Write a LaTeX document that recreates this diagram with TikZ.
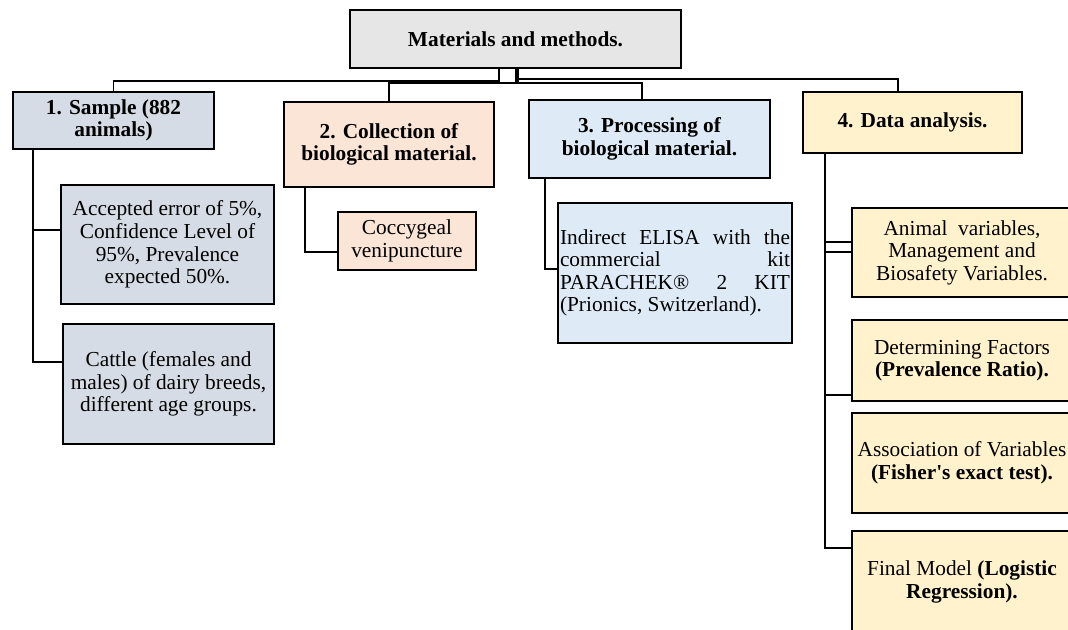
\documentclass[tikz,border=0pt]{standalone}
\usepackage{fontspec}
\setmainfont{Liberation Serif}
\usetikzlibrary{calc}
\definecolor{titlefill}{HTML}{E7E6E6}
\definecolor{grpA}{HTML}{D6DCE5}
\definecolor{grpB}{HTML}{FBE5D6}
\definecolor{grpC}{HTML}{DEEBF7}
\definecolor{grpD}{HTML}{FFF2CC}
\begin{document}
\begin{tikzpicture}[x=0.75pt,y=-0.75pt,
  box/.style={draw=black, line width=1.2pt, inner sep=0pt, align=center, font=\fontsize{16}{16.9}\selectfont},
  hbox/.style={box, font=\bfseries\fontsize{16}{16.9}\selectfont},
  conn/.style={line width=1pt},
  conn2/.style={line width=1.5pt}]
\useasboundingbox (0,0) rectangle (1068,630);
\clip (0,0) rectangle (1068,630);
% main boxes
\node[hbox, fill=titlefill, minimum width=248.25pt, minimum height=43.5pt] (title) at (515.5,39) {Materials and methods.};
\node[hbox, fill=grpA, minimum width=150.75pt, minimum height=42.75pt] (b1) at (113.5,120.5) {1. Sample (882\\animals)};
\node[hbox, fill=grpB, minimum width=157.5pt, minimum height=63.75pt] (b2) at (389,144.5) {2. Collection of\\biological material.};
\node[hbox, fill=grpC, minimum width=180.75pt, minimum height=58.5pt] (b3) at (649.5,139) {3. Processing of\\biological material.};
\node[hbox, fill=grpD, minimum width=164.25pt, minimum height=45.75pt] (b4) at (912.5,122.5) {4. Data analysis.};
% sub boxes
\node[box, fill=grpA, minimum width=159.75pt, minimum height=89.25pt] (s1a) at (167.5,244.5) {Accepted error of 5\%,\\Confidence Level of\\95\%, Prevalence\\expected 50\%.};
\node[box, fill=grpA, minimum width=158.25pt, minimum height=90pt] (s1b) at (168.5,384) {Cattle (females and\\males) of dairy breeds,\\different age groups.};
\node[box, fill=grpB, minimum width=103.5pt, minimum height=43.5pt] (s2) at (407,241) {Coccygeal\\venipuncture};
\node[box, fill=grpC, minimum width=175.5pt, minimum height=105pt, align=left] (s3) at (675,273)
  {\makebox[172.5pt][s]{Indirect ELISA with the}\\\makebox[172.5pt][s]{commercial kit}\\\makebox[172.5pt][s]{PARACHEK® 2 KIT}\\(Prionics, Switzerland).};
\node[box, fill=grpD, minimum width=165pt, minimum height=66.75pt] (s4a) at (962,252.5) {Animal\ \ variables,\\Management and\\Biosafety Variables.};
\node[box, fill=grpD, minimum width=165pt, minimum height=60.75pt] (s4b) at (962,360.5) {Determining Factors\\\textbf{(Prevalence Ratio).}};
\node[box, fill=grpD, minimum width=165pt, minimum height=75pt] (s4c) at (962,463) {Association of Variables\\\textbf{(Fisher\textquotesingle s exact test).}};
\node[box, fill=grpD, minimum width=165pt, minimum height=76.5pt] (s4d) at (962,582) {Final Model \textbf{(Logistic}\\\textbf{Regression).}};
% top connectors
\coordinate (h1) at (499,81);
\coordinate (h2) at (517,83);
\coordinate (h3) at (517,79);
\draw[conn] (title.south -| h1) -- (h1) -| (b1.north);
\draw[conn2] (h2) -| (b2.north);
\draw[conn2] (h2) -| ($(b3.north)+(-7.5,0)$);
\draw[conn] (h3) -| ($(b4.north)+(-14.5,0)$);
\draw[line width=2.5pt] (title.south -| h2) -- (h2);
% sub connectors
\coordinate (v1) at (33,0);
\coordinate (v2) at (305,0);
\coordinate (v3) at (545,0);
\coordinate (v4) at (825,0);
\draw[conn] (b1.south -| v1) |- ($(s1a.west)+(0,-14.5)$);
\draw[conn] (b1.south -| v1) |- ($(s1b.west)+(0,-22)$);
\draw[conn] (b2.south -| v2) |- ($(s2.west)+(0,11)$);
\draw[conn] (b3.south -| v3) |- ($(s3.west)+(0,-4)$);
\draw[conn] (b4.south -| v4) |- ($(s4a.west)+(0,-10.5)$);
\draw[conn] (b4.south -| v4) |- ($(s4a.west)+(0,-0.5)$);
\draw[conn] (b4.south -| v4) |- ($(s4b.west)+(0,34.5)$);
\draw[conn] (b4.south -| v4) |- ($(s4d.west)+(0,-34)$);
\end{tikzpicture}
\end{document}
